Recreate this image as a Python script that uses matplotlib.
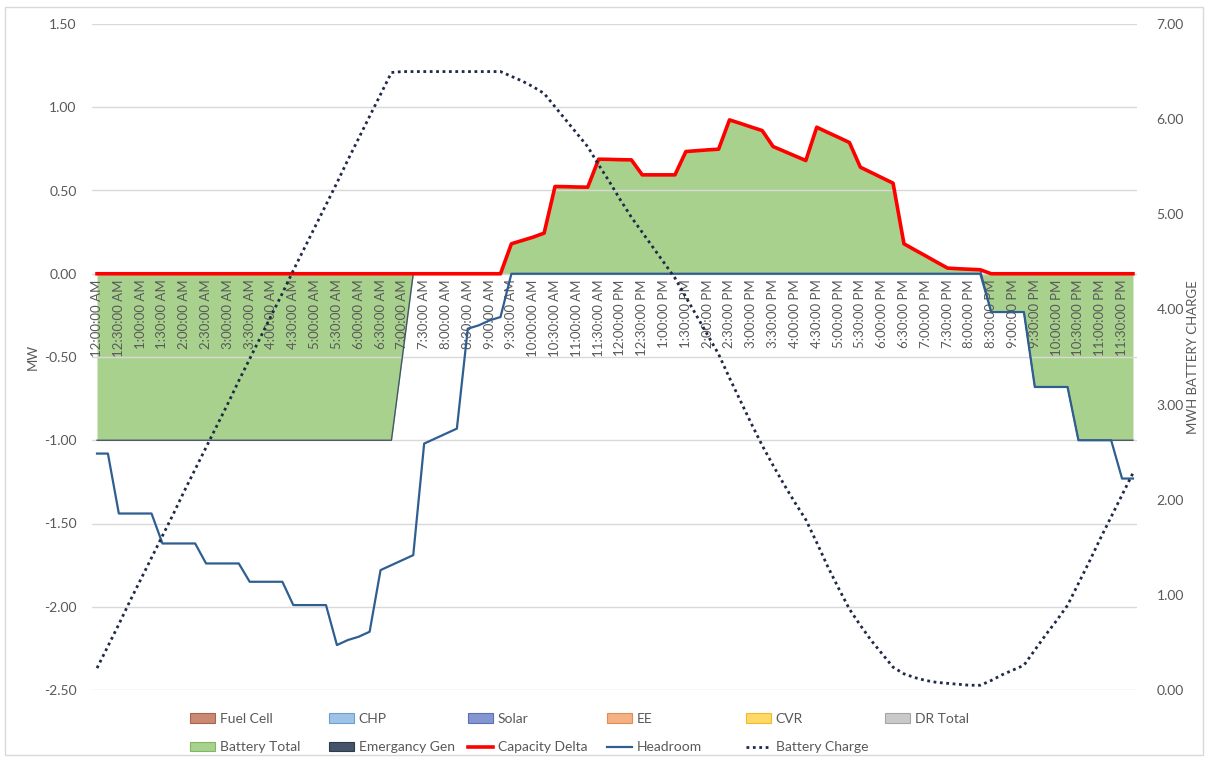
import matplotlib

matplotlib.use("Agg")
import matplotlib.pyplot as plt
import matplotlib.patches as mpatches
from matplotlib.lines import Line2D
from matplotlib.ticker import FormatStrFormatter, MultipleLocator
import numpy as np

plt.rcParams["font.family"] = ["Lato", "DejaVu Sans"]

# 15-minute slots over one day (96 points), labels every 30 minutes
TIME_LABELS = [
    "12:00:00 AM", "12:30:00 AM", "1:00:00 AM", "1:30:00 AM", "2:00:00 AM", "2:30:00 AM",
    "3:00:00 AM", "3:30:00 AM", "4:00:00 AM", "4:30:00 AM", "5:00:00 AM", "5:30:00 AM",
    "6:00:00 AM", "6:30:00 AM", "7:00:00 AM", "7:30:00 AM", "8:00:00 AM", "8:30:00 AM",
    "9:00:00 AM", "9:30:00 AM", "10:00:00 AM", "10:30:00 AM", "11:00:00 AM", "11:30:00 AM",
    "12:00:00 PM", "12:30:00 PM", "1:00:00 PM", "1:30:00 PM", "2:00:00 PM", "2:30:00 PM",
    "3:00:00 PM", "3:30:00 PM", "4:00:00 PM", "4:30:00 PM", "5:00:00 PM", "5:30:00 PM",
    "6:00:00 PM", "6:30:00 PM", "7:00:00 PM", "7:30:00 PM", "8:00:00 PM", "8:30:00 PM",
    "9:00:00 PM", "9:30:00 PM", "10:00:00 PM", "10:30:00 PM", "11:00:00 PM", "11:30:00 PM",
]

battery_total = (
    [-1.0] * 28
    + [-0.5]
    + [0.0] * 9
    + [0.18, 0.20, 0.22, 0.244]
    + [0.524, 0.523, 0.521, 0.52]
    + [0.688, 0.687, 0.685, 0.684]
    + [0.594, 0.594, 0.594, 0.594]
    + [0.734, 0.739, 0.744, 0.748]
    + [0.924, 0.903, 0.881, 0.86]
    + [0.764, 0.736, 0.708, 0.68]
    + [0.88, 0.849, 0.819, 0.788]
    + [0.64, 0.608, 0.576, 0.544]
    + [0.18, 0.143, 0.107, 0.07]
    + [0.034, 0.03, 0.027, 0.024]
    + [-0.23] * 4
    + [-0.68] * 4
    + [-1.0] * 6
)

capacity_delta = (
    [0.0] * 38
    + [0.18, 0.20, 0.22, 0.244]
    + [0.524, 0.523, 0.521, 0.52]
    + [0.688, 0.687, 0.685, 0.684]
    + [0.594, 0.594, 0.594, 0.594]
    + [0.734, 0.739, 0.744, 0.748]
    + [0.924, 0.903, 0.881, 0.86]
    + [0.764, 0.736, 0.708, 0.68]
    + [0.88, 0.849, 0.819, 0.788]
    + [0.64, 0.608, 0.576, 0.544]
    + [0.18, 0.143, 0.107, 0.07]
    + [0.034, 0.03, 0.027, 0.024]
    + [0.0] * 14
)

headroom = (
    [-1.08] * 2
    + [-1.44] * 4
    + [-1.62] * 4
    + [-1.74] * 4
    + [-1.85] * 4
    + [-1.99] * 4
    + [-2.23, -2.20, -2.18, -2.15]
    + [-1.78, -1.75, -1.72, -1.69]
    + [-1.02, -0.99, -0.96, -0.93]
    + [-0.33, -0.31, -0.28, -0.26]
    + [0.0] * 44
    + [-0.23] * 4
    + [-0.68] * 4
    + [-1.00] * 4
    + [-1.23] * 2
)

battery_charge = (
    [0.23, 0.46, 0.69, 0.93, 1.16, 1.39, 1.62, 1.85, 2.09, 2.32, 2.55, 2.78, 3.01, 3.25,
     3.48, 3.71, 3.94, 4.17, 4.41, 4.64, 4.87, 5.10, 5.33, 5.57, 5.80, 6.03, 6.26, 6.49]
    + [6.50] * 10
    + [6.45, 6.40, 6.34, 6.27, 6.13, 5.99, 5.85, 5.71, 5.52, 5.34, 5.15, 4.97,
       4.81, 4.65, 4.49, 4.33, 4.13, 3.93, 3.73, 3.53, 3.28, 3.04, 2.80, 2.57,
       2.36, 2.16, 1.97, 1.79, 1.55, 1.30, 1.07, 0.85, 0.68, 0.52, 0.38, 0.24,
       0.17, 0.13, 0.10, 0.08, 0.07, 0.06, 0.05, 0.05]
    + [0.10, 0.16, 0.21, 0.26, 0.42, 0.58, 0.73, 0.89, 1.12, 1.35, 1.59, 1.82, 2.05, 2.28]
)

LEGEND_ROW1 = ["Fuel Cell", "CHP", "Solar", "EE", "CVR", "DR Total"]
LEGEND_ROW2 = ["Battery Total", "Emergancy Gen", "Capacity Delta", "Headroom", "Battery Charge"]

PATCH_COLORS = {
    "Fuel Cell": ("#c98a73", "#a8644c"),
    "CHP": ("#9dc3e6", "#6e9fcf"),
    "Solar": ("#8496d2", "#5b6fb5"),
    "EE": ("#f4b183", "#e08c55"),
    "CVR": ("#ffd966", "#f2b92c"),
    "DR Total": ("#c9c9c9", "#a5a5a5"),
    "Battery Total": ("#a9d18e", "#7fb760"),
    "Emergancy Gen": ("#44546a", "#2f3b4c"),
}
GREEN = "#a9d18e"
RED = "#ff0000"
HEADROOM_BLUE = "#2f5e91"
CHARGE_NAVY = "#1f2a48"
GRAY_TEXT = "#595959"
GRID = "#d9d9d9"

W, H = 1209, 762
fig = plt.figure(figsize=(W / 100, H / 100), dpi=100)
fig.patches.append(
    mpatches.Rectangle((5 / W, 7 / H), 1198 / W, 748 / H, transform=fig.transFigure,
                       fill=False, edgecolor="#d9d9d9", linewidth=1)
)

ax = fig.add_axes([92 / W, 1 - 690 / H, (1137 - 92) / W, (690 - 24) / H])
x = np.arange(len(battery_total))

ax.fill_between(x, 0, battery_total, color=GREEN, linewidth=0, zorder=1)
ax.plot(x, battery_total, color="#44546a", linewidth=1.0, zorder=2)
ax.plot(x, headroom, color=HEADROOM_BLUE, linewidth=1.6, zorder=3)
ax.plot(x, capacity_delta, color=RED, linewidth=2.6, zorder=4)

ax.set_xlim(-0.46, 95.37)
ax.set_ylim(-2.5, 1.5)
ax.yaxis.set_major_locator(MultipleLocator(0.5))
ax.yaxis.set_major_formatter(FormatStrFormatter("%.2f"))
ax.grid(axis="y", color=GRID, linewidth=1)
for side in ("left", "right", "top"):
    ax.spines[side].set_visible(False)
ax.spines["bottom"].set_position(("data", 0))
ax.spines["bottom"].set_visible(False)

ax.set_xticks(x[::2])
ax.set_xticklabels(TIME_LABELS, rotation=90, va="top", ha="center")
ax.tick_params(axis="x", length=0, pad=4, labelsize=9.5, labelcolor=GRAY_TEXT)
ax.tick_params(axis="y", length=0, pad=11, labelsize=10, labelcolor=GRAY_TEXT)

ax2 = ax.twinx()
ax2.plot(x, battery_charge, color=CHARGE_NAVY, linewidth=2.0, linestyle=(0, (1, 1.3)), zorder=5)
ax2.set_ylim(0, 7)
ax2.yaxis.set_major_locator(MultipleLocator(1))
ax2.yaxis.set_major_formatter(FormatStrFormatter("%.2f"))
for side in ("left", "right", "top", "bottom"):
    ax2.spines[side].set_visible(False)
ax2.tick_params(axis="y", length=0, pad=14, labelsize=10, labelcolor=GRAY_TEXT)

fig.text(33 / W, 1 - 357 / H, "MW", rotation=90, va="center", ha="center",
         fontsize=9.5, color=GRAY_TEXT)
fig.text(1193 / W, 1 - 357 / H, "MWH BATTERY CHARGE", rotation=90, va="center", ha="center",
         fontsize=9.5, color=GRAY_TEXT)


def make_handle(name):
    if name in PATCH_COLORS:
        face, edge = PATCH_COLORS[name]
        return mpatches.Patch(facecolor=face, edgecolor=edge, linewidth=0.8)
    if name == "Capacity Delta":
        return Line2D([], [], color=RED, linewidth=2.6)
    if name == "Headroom":
        return Line2D([], [], color=HEADROOM_BLUE, linewidth=1.6)
    return Line2D([], [], color=CHARGE_NAVY, linewidth=2.0, linestyle=(0, (1, 1.3)))


col_x = [190, 329, 468, 607, 746, 885]
for i, cx in enumerate(col_x):
    names = [LEGEND_ROW1[i]] + ([LEGEND_ROW2[i]] if i < len(LEGEND_ROW2) else [])
    fig.legend(
        [make_handle(n) for n in names], names,
        loc="upper left", bbox_to_anchor=(cx / W, 1 - 713 / H),
        frameon=False, fontsize=10, handlelength=1.8, handletextpad=0.35,
        labelspacing=1.18, borderpad=0, borderaxespad=0, labelcolor=GRAY_TEXT,
    )

fig.savefig("out.png", dpi=100)
